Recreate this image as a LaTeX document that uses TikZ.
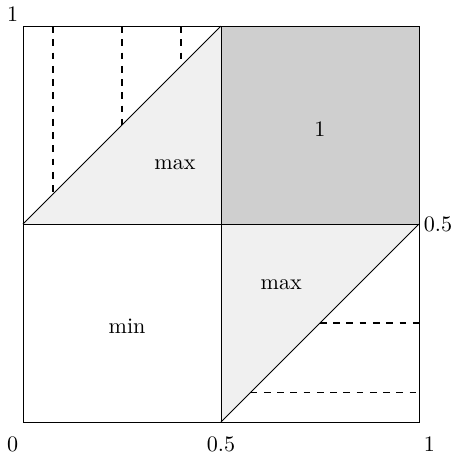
\documentclass[tikz,border=0pt]{standalone}
\usepackage{tikz}
\usetikzlibrary{positioning}

\begin{document}
\begin{tikzpicture}[x=6.3cm,y=6.3cm, every node/.style={font=\normalsize}]
    \useasboundingbox (-0.058,-0.081) rectangle (1.091,1.066);
    % shaded regions
    \fill[black!19] (0.5,0.5) rectangle (1,1);
    \fill[black!6] (0,0.5) -- (0.5,1) -- (0.5,0.5) -- cycle;
    \fill[black!6] (0.5,0) -- (1,0.5) -- (0.5,0.5) -- cycle;
    % grid and diagonals
    \draw (0,0) rectangle (1,1);
    \draw (0,0.5) -- (1,0.5);
    \draw (0.5,0) -- (0.5,1);
    \draw (0,0.5) -- (0.5,1);
    \draw (0.5,0) -- (1,0.5);
    % dashed levels
    \foreach \t in {0.075,0.25,0.4}
        \draw[dashed, thick] (\t,1) -- (\t,\t+0.5);
    \foreach \t in {0.075,0.25}
        \draw[dashed, thick] (\t+0.5,\t) -- (1,\t);
    % region labels
    \node (one) at (0.75,0.74) {1};
    \node (maxa) at (0.384,0.649) {max};
    \node (maxb) at (0.652,0.348) {max};
    \node (min) at (0.263,0.242) {min};
    % axis labels
    \node[anchor=north east, inner sep=2pt] (x0) at (0,-0.025) {0};
    \node[anchor=north, inner sep=2pt] (xh) at (0.5,-0.025) {0.5};
    \node[anchor=north west, inner sep=2pt] (x1) at (1,-0.025) {1};
    \node[anchor=south east, inner sep=2pt] (y1) at (0,1) {1};
    \node[anchor=west, inner sep=2pt] (yh) at (1,0.5) {0.5};
\end{tikzpicture}
\end{document}
